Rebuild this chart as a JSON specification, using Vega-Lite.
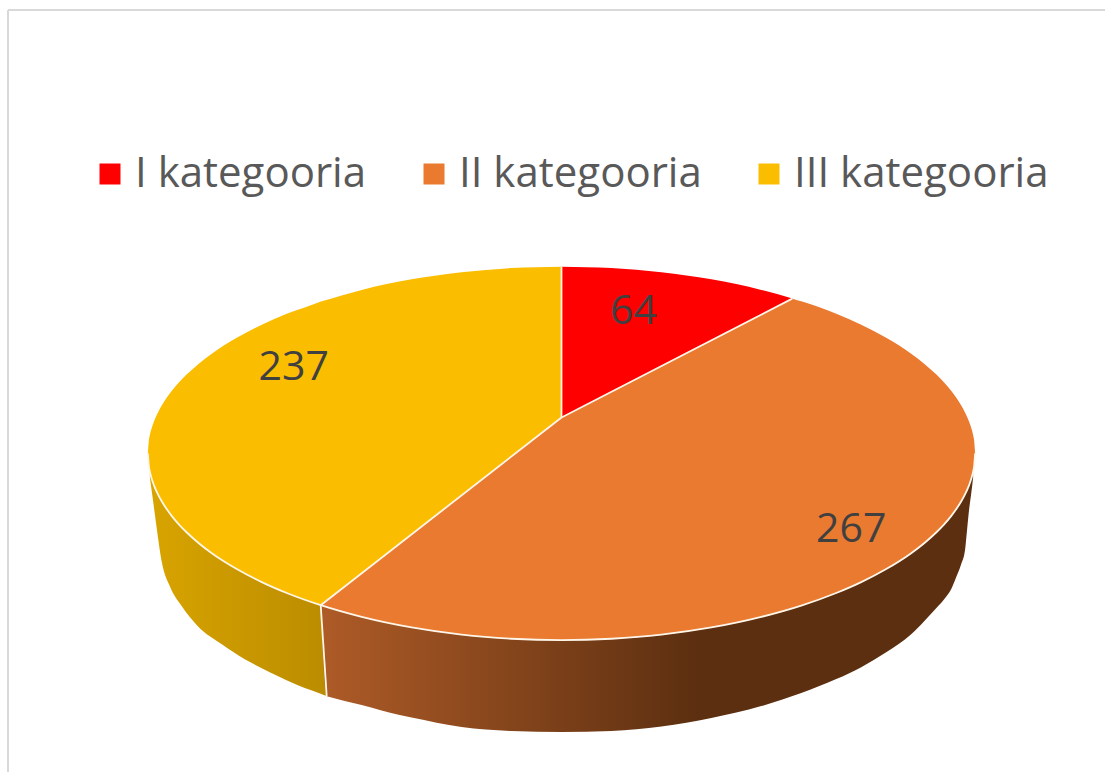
{"$schema":"https://vega.github.io/schema/vega-lite/v6.json","width":1106,"height":773,"padding":0,"autosize":{"type":"fit","contains":"padding"},"background":"white","view":{"stroke":null},
"config":{"axis":{"domain":false,"grid":false}},
"datasets":{
"sideIII":[{"x":150,"top":472.4,"bottom":478},{"x":153,"top":483,"bottom":500},{"x":157,"top":492.8,"bottom":530},{"x":162,"top":502.2,"bottom":563},{"x":170,"top":514.1,"bottom":587},{"x":182,"top":528.2,"bottom":607},{"x":198,"top":543.1,"bottom":627},{"x":222,"top":560.7,"bottom":645},{"x":245,"top":574.3,"bottom":660},{"x":260,"top":581.9,"bottom":668},{"x":280,"top":590.9,"bottom":678},{"x":305,"top":600.6,"bottom":689},{"x":321,"top":606,"bottom":694.6},{"x":327,"top":697,"bottom":697}],
"sideII":[{"x":321,"top":606,"bottom":606},{"x":327,"top":608,"bottom":697},{"x":328,"top":608.3,"bottom":697.3},{"x":362,"top":617.7,"bottom":706},{"x":400,"top":626.1,"bottom":716},{"x":412,"top":628.3,"bottom":718.5},{"x":462,"top":635.5,"bottom":728},{"x":512,"top":639.6,"bottom":732},{"x":562,"top":641,"bottom":733},{"x":612,"top":639.6,"bottom":732},{"x":662,"top":635.5,"bottom":727.5},{"x":712,"top":628.3,"bottom":719},{"x":762,"top":617.7,"bottom":707},{"x":802,"top":606.4,"bottom":694},{"x":837,"top":593.8,"bottom":680},{"x":862,"top":582.9,"bottom":668},{"x":887,"top":569.8,"bottom":653},{"x":912,"top":553.9,"bottom":635},{"x":925,"top":543.9,"bottom":622},{"x":937,"top":533.2,"bottom":609},{"x":945,"top":525,"bottom":600},{"x":952,"top":516.8,"bottom":590},{"x":957,"top":510,"bottom":578},{"x":962,"top":502.2,"bottom":565},{"x":966,"top":494.8,"bottom":550},{"x":968,"top":490.6,"bottom":530},{"x":970,"top":485.7,"bottom":510},{"x":972,"top":479.9,"bottom":495},{"x":974,"top":472.4,"bottom":478}],
"faces":[
{"category":"I kategooria","x":562,"top":267,"bottom":418},{"category":"I kategooria","x":612,"top":268.4,"bottom":392.2},{"category":"I kategooria","x":662,"top":272.5,"bottom":366.5},{"category":"I kategooria","x":712,"top":279.7,"bottom":340.8},{"category":"I kategooria","x":762,"top":290.3,"bottom":315},{"category":"I kategooria","x":793,"top":299,"bottom":299},
{"category":"II kategooria","x":321,"top":606,"bottom":606},{"category":"II kategooria","x":362,"top":574,"bottom":617.7},{"category":"II kategooria","x":412,"top":535,"bottom":628.3},{"category":"II kategooria","x":462,"top":496,"bottom":635.5},{"category":"II kategooria","x":512,"top":457,"bottom":639.6},{"category":"II kategooria","x":561,"top":418.8,"bottom":641},{"category":"II kategooria","x":562,"top":418,"bottom":641},{"category":"II kategooria","x":563,"top":417.5,"bottom":641},{"category":"II kategooria","x":612,"top":392.2,"bottom":639.6},{"category":"II kategooria","x":662,"top":366.5,"bottom":635.5},{"category":"II kategooria","x":712,"top":340.8,"bottom":628.3},{"category":"II kategooria","x":762,"top":315,"bottom":617.7},{"category":"II kategooria","x":792,"top":299.5,"bottom":609.6},{"category":"II kategooria","x":793,"top":299,"bottom":609.2},{"category":"II kategooria","x":794,"top":299.4,"bottom":608.9},{"category":"II kategooria","x":802,"top":301.6,"bottom":606.4},{"category":"II kategooria","x":837,"top":314.2,"bottom":593.8},{"category":"II kategooria","x":862,"top":325.1,"bottom":582.9},{"category":"II kategooria","x":887,"top":338.2,"bottom":569.8},{"category":"II kategooria","x":900,"top":346,"bottom":562},{"category":"II kategooria","x":912,"top":354.1,"bottom":553.9},{"category":"II kategooria","x":925,"top":364.1,"bottom":543.9},{"category":"II kategooria","x":937,"top":374.8,"bottom":533.2},{"category":"II kategooria","x":945,"top":383,"bottom":525},{"category":"II kategooria","x":952,"top":391.2,"bottom":516.8},{"category":"II kategooria","x":957,"top":398,"bottom":510},{"category":"II kategooria","x":962,"top":405.8,"bottom":502.2},{"category":"II kategooria","x":966,"top":413.2,"bottom":494.8},{"category":"II kategooria","x":970,"top":422.3,"bottom":485.7},{"category":"II kategooria","x":972,"top":428.1,"bottom":479.9},{"category":"II kategooria","x":974,"top":435.6,"bottom":472.4},{"category":"II kategooria","x":975,"top":441,"bottom":467},{"category":"II kategooria","x":976,"top":454,"bottom":454},
{"category":"III kategooria","x":148,"top":454,"bottom":454},{"category":"III kategooria","x":149,"top":441,"bottom":467},{"category":"III kategooria","x":150,"top":435.6,"bottom":472.4},{"category":"III kategooria","x":152,"top":428.1,"bottom":479.9},{"category":"III kategooria","x":154,"top":422.3,"bottom":485.7},{"category":"III kategooria","x":158,"top":413.2,"bottom":494.8},{"category":"III kategooria","x":162,"top":405.8,"bottom":502.2},{"category":"III kategooria","x":167,"top":398,"bottom":510},{"category":"III kategooria","x":172,"top":391.2,"bottom":516.8},{"category":"III kategooria","x":179,"top":383,"bottom":525},{"category":"III kategooria","x":187,"top":374.8,"bottom":533.2},{"category":"III kategooria","x":199,"top":364.1,"bottom":543.9},{"category":"III kategooria","x":212,"top":354.1,"bottom":553.9},{"category":"III kategooria","x":224,"top":346,"bottom":562},{"category":"III kategooria","x":237,"top":338.2,"bottom":569.8},{"category":"III kategooria","x":262,"top":325.1,"bottom":582.9},{"category":"III kategooria","x":287,"top":314.2,"bottom":593.8},{"category":"III kategooria","x":320,"top":302.4,"bottom":605.6},{"category":"III kategooria","x":321,"top":302,"bottom":606},{"category":"III kategooria","x":322,"top":301.7,"bottom":605.2},{"category":"III kategooria","x":362,"top":290.3,"bottom":574},{"category":"III kategooria","x":412,"top":279.7,"bottom":535},{"category":"III kategooria","x":462,"top":272.5,"bottom":496},{"category":"III kategooria","x":512,"top":268.4,"bottom":457},{"category":"III kategooria","x":562,"top":267,"bottom":418}],
"rim":[{"x":148,"y":454},{"x":149,"y":467},{"x":150,"y":472.4},{"x":152,"y":479.9},{"x":154,"y":485.7},{"x":158,"y":494.8},{"x":162,"y":502.2},{"x":167,"y":510},{"x":172,"y":516.8},{"x":179,"y":525},{"x":187,"y":533.2},{"x":199,"y":543.9},{"x":212,"y":553.9},{"x":224,"y":562},{"x":237,"y":569.8},{"x":262,"y":582.9},{"x":287,"y":593.8},{"x":321,"y":606},{"x":362,"y":617.7},{"x":412,"y":628.3},{"x":462,"y":635.5},{"x":512,"y":639.6},{"x":562,"y":641},{"x":612,"y":639.6},{"x":662,"y":635.5},{"x":712,"y":628.3},{"x":762,"y":617.7},{"x":802,"y":606.4},{"x":837,"y":593.8},{"x":862,"y":582.9},{"x":887,"y":569.8},{"x":912,"y":553.9},{"x":925,"y":543.9},{"x":937,"y":533.2},{"x":945,"y":525},{"x":952,"y":516.8},{"x":957,"y":510},{"x":962,"y":502.2},{"x":966,"y":494.8},{"x":970,"y":485.7},{"x":972,"y":479.9},{"x":974,"y":472.4},{"x":975,"y":467},{"x":976,"y":454}],
"edges":[{"x":562,"y":267,"x2":562,"y2":418},{"x":793,"y":299,"x2":562,"y2":418},{"x":321,"y":606,"x2":562,"y2":418},{"x":321,"y":606,"x2":327,"y2":697}],
"frame":[{"x":8,"y":10,"x2":8,"y2":773},{"x":8,"y":10,"x2":1106,"y2":10}],
"labels":[{"category":"I kategooria","value":64,"x":634,"y":312},{"category":"II kategooria","value":267,"x":852,"y":531},{"category":"III kategooria","value":237,"x":294,"y":368}]
},
"encoding":{
"x":{"field":"x","type":"quantitative","scale":{"domain":[0,1106],"nice":false,"zero":false},"axis":null},
"y":{"field":"y","type":"quantitative","scale":{"domain":[773,0],"nice":false,"zero":false},"axis":null}
},
"layer":[
{"data":{"name":"frame"},"mark":{"type":"rule","color":"#d9d9d9","strokeWidth":2},"encoding":{"x2":{"field":"x2"},"y2":{"field":"y2"}}},
{"data":{"name":"sideIII"},"mark":{"type":"area","interpolate":"monotone","color":{"gradient":"linear","x1":0,"y1":0,"x2":1,"y2":0,"stops":[{"offset":0,"color":"#d8a400"},{"offset":1,"color":"#bb8c00"}]}},"encoding":{"y":{"field":"top","type":"quantitative"},"y2":{"field":"bottom"}}},
{"data":{"name":"sideII"},"mark":{"type":"area","interpolate":"monotone","color":{"gradient":"linear","x1":0,"y1":0,"x2":1,"y2":0,"stops":[{"offset":0,"color":"#ae5b27"},{"offset":0.58,"color":"#5c2f10"},{"offset":1,"color":"#5c2f10"}]}},"encoding":{"y":{"field":"top","type":"quantitative"},"y2":{"field":"bottom"}}},
{"data":{"name":"faces"},"mark":{"type":"area","interpolate":"monotone"},"encoding":{"y":{"field":"top","type":"quantitative"},"y2":{"field":"bottom"},
"color":{"field":"category","type":"nominal","scale":{"domain":["I kategooria","II kategooria","III kategooria"],"range":["#fe0000","#e97a30","#fbbd00"]},
"legend":{"title":null,"orient":"none","legendX":89,"legendY":153,"direction":"horizontal","columns":3,"symbolType":"square","symbolSize":441,"symbolStrokeWidth":0,"labelFont":"Open Sans","labelFontSize":42,"labelColor":"#595959","labelOffset":4,"labelLimit":400,"columnPadding":46}}}},
{"data":{"name":"rim"},"mark":{"type":"line","interpolate":"monotone","color":"#fff6ea","strokeWidth":1.8}},
{"data":{"name":"edges"},"mark":{"type":"rule","color":"#fff6ea","strokeWidth":1.8},"encoding":{"x2":{"field":"x2"},"y2":{"field":"y2"}}},
{"data":{"name":"labels"},"mark":{"type":"text","font":"Open Sans","fontSize":41,"color":"#404040","align":"center","baseline":"middle"},"encoding":{"text":{"field":"value","type":"quantitative"}}}
]}
